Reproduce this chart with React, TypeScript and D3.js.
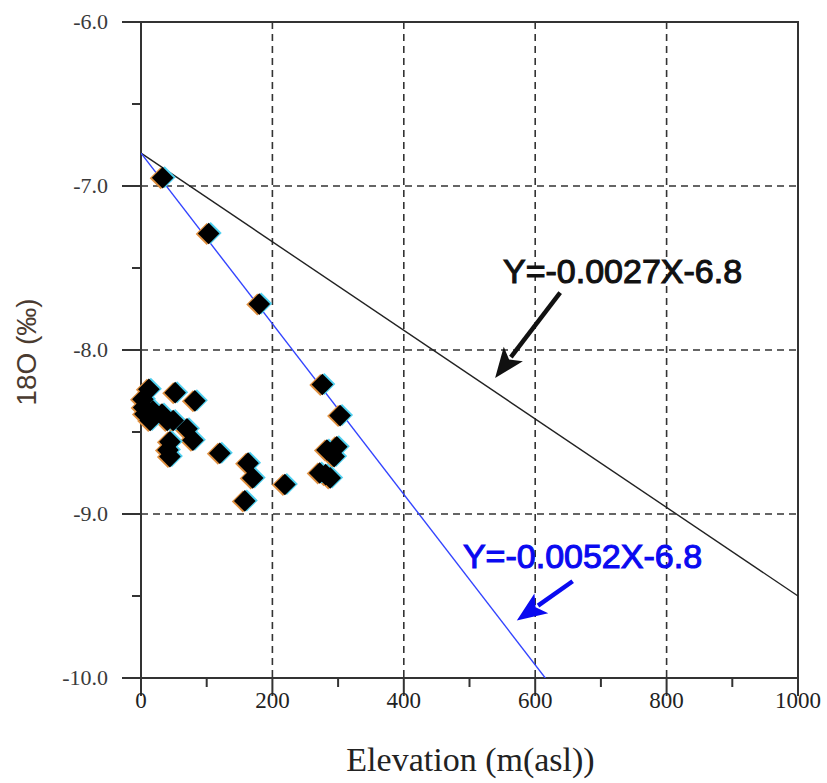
import React, { useEffect, useRef } from 'react';
import * as d3 from 'd3';

// elevation (m asl) and d18O (permil) of the samples
const elevation = [33, 103, 180, 12, 52, 82, 3, 4, 6, 18, 14, 32, 40, 49, 70, 79, 44, 44, 41, 120, 163, 170, 158, 219, 276, 303, 283, 298, 294, 272, 288, 281];
const d18O = [-6.95, -7.29, -7.72, -8.24, -8.26, -8.31, -8.3, -8.35, -8.39, -8.37, -8.43, -8.39, -8.43, -8.43, -8.48, -8.55, -8.56, -8.65, -8.61, -8.63, -8.69, -8.78, -8.92, -8.82, -8.21, -8.4, -8.61, -8.59, -8.65, -8.75, -8.78, -8.76];

const xTicks = [0, 200, 400, 600, 800, 1000];
const yTicks = [-6, -7, -8, -9, -10];

// regression lines: slope, intercept, label, colour
const fits = [
  { slope: -0.0027, intercept: -6.8, label: 'Y=-0.0027X-6.8', color: '#111111', lineColor: '#222222', text: [551, -7.59], arrow: [[638, -7.65], [539, -8.17]] },
  { slope: -0.0052, intercept: -6.8, label: 'Y=-0.0052X-6.8', color: '#0a0af0', lineColor: '#3344ff', text: [490, -9.33], arrow: [[657, -9.41], [572, -9.65]] },
];

const W = 827;
const H = 783;

const Chart = () => {
  const ref = useRef<SVGSVGElement>(null);

  useEffect(() => {
    document.body.style.margin = '0';
    const svg = d3.select(ref.current);
    svg.selectAll('*').remove();

    const margin = { top: 22, right: 29, bottom: 105, left: 141 };
    const x = d3.scaleLinear().domain([0, 1000]).range([margin.left, W - margin.right]);
    const y = d3.scaleLinear().domain([-6, -10]).range([margin.top, H - margin.bottom]);

    const defs = svg.append('defs');
    defs.append('clipPath').attr('id', 'plot')
      .append('rect')
      .attr('x', x(0)).attr('y', y(-6))
      .attr('width', x(1000) - x(0)).attr('height', y(-10) - y(-6));

    // dashed grid
    const grid = svg.append('g').attr('stroke', '#333').attr('stroke-width', 1.6).attr('stroke-dasharray', '7,5');
    grid.selectAll('.gx').data([200, 400, 600, 800]).enter().append('line')
      .attr('x1', (d) => x(d)).attr('x2', (d) => x(d))
      .attr('y1', y(-6)).attr('y2', y(-10));
    grid.selectAll('.gy').data([-7, -8, -9]).enter().append('line')
      .attr('y1', (d) => y(d)).attr('y2', (d) => y(d))
      .attr('x1', x(0)).attr('x2', x(1000));

    // ticks
    const axisG = svg.append('g').attr('stroke', '#333').attr('stroke-width', 2);
    axisG.selectAll('.yt').data(d3.range(-6, -10.01, -0.5)).enter().append('line')
      .attr('y1', (d) => y(d)).attr('y2', (d) => y(d))
      .attr('x1', (d) => x(0) - (Number.isInteger(d) ? 19 : 9)).attr('x2', x(0));
    axisG.selectAll('.xt').data(d3.range(0, 1001, 100)).enter().append('line')
      .attr('x1', (d) => x(d)).attr('x2', (d) => x(d))
      .attr('y1', y(-10)).attr('y2', (d) => y(-10) + (d % 200 === 0 ? 18 : 9));

    // frame
    svg.append('rect')
      .attr('x', x(0)).attr('y', y(-6))
      .attr('width', x(1000) - x(0)).attr('height', y(-10) - y(-6))
      .attr('fill', 'none').attr('stroke', '#333').attr('stroke-width', 2);

    // tick labels
    svg.append('g').selectAll('text').data(yTicks).enter().append('text')
      .attr('x', 108).attr('y', (d) => y(d) + 7)
      .attr('text-anchor', 'end')
      .style('font-family', 'Liberation Serif, serif').style('font-size', '22px').attr('fill', '#3a3a3a')
      .text((d) => d.toFixed(1));
    svg.append('g').selectAll('text').data(xTicks).enter().append('text')
      .attr('x', (d) => x(d)).attr('y', y(-10) + 30)
      .attr('text-anchor', 'middle')
      .style('font-family', 'Liberation Serif, serif').style('font-size', '23px').attr('fill', '#222')
      .text((d) => String(d));

    // axis titles
    svg.append('text')
      .attr('x', (x(0) + x(1000)) / 2 + 1).attr('y', 771)
      .attr('text-anchor', 'middle')
      .style('font-family', 'Liberation Serif, serif').style('font-size', '34px').attr('fill', '#222')
      .text('Elevation (m(asl))');
    svg.append('text')
      .attr('transform', `translate(36, ${(y(-6) + y(-10)) / 2 + 2}) rotate(-90)`)
      .attr('text-anchor', 'middle')
      .style('font-family', 'Liberation Sans, Arial, sans-serif').style('font-size', '28px').attr('fill', '#4a3b30')
      .text('18O (‰)');

    // fit lines
    const plot = svg.append('g').attr('clip-path', 'url(#plot)');
    fits.forEach((f) => {
      plot.append('line')
        .attr('x1', x(0)).attr('y1', y(f.intercept))
        .attr('x2', x(1000)).attr('y2', y(f.intercept + f.slope * 1000))
        .attr('stroke', f.lineColor).attr('stroke-width', 1.4);
    });

    // samples: diamonds with a little colour fringe
    const pts = elevation.map((e, i) => [x(e), y(d18O[i])]);
    const diamond = (cx: number, cy: number, r: number) =>
      `M${cx},${cy - r}L${cx + r},${cy}L${cx},${cy + r}L${cx - r},${cy}Z`;
    const dots = svg.append('g');
    dots.selectAll('.fo').data(pts).enter().append('path')
      .attr('d', (d) => diamond(d[0] - 2, d[1] + 0.5, 11)).attr('fill', '#e09040');
    dots.selectAll('.fc').data(pts).enter().append('path')
      .attr('d', (d) => diamond(d[0] + 2, d[1] - 0.5, 11)).attr('fill', '#50d0f0');
    dots.selectAll('.fb').data(pts).enter().append('path')
      .attr('d', (d) => diamond(d[0], d[1], 10.8)).attr('fill', '#000');

    // annotations with arrows
    fits.forEach((f) => {
      svg.append('text')
        .attr('x', x(f.text[0])).attr('y', y(f.text[1]))
        .style('font-family', 'Liberation Sans, Arial, sans-serif').style('font-size', '34px')
        .attr('fill', f.color).attr('stroke', f.color).attr('stroke-width', 1.1)
        .text(f.label);
      const [s, t] = f.arrow;
      const x0 = x(s[0]), y0 = y(s[1]), x1 = x(t[0]), y1 = y(t[1]);
      const ang = Math.atan2(y1 - y0, x1 - x0);
      const hl = 30, hw = 12;
      const bx = x1 - hl * Math.cos(ang), by = y1 - hl * Math.sin(ang);
      svg.append('line')
        .attr('x1', x0).attr('y1', y0).attr('x2', bx + 4 * Math.cos(ang)).attr('y2', by + 4 * Math.sin(ang))
        .attr('stroke', f.color).attr('stroke-width', 4.5);
      svg.append('path')
        .attr('d', `M${x1},${y1}L${bx - hw * Math.sin(ang)},${by + hw * Math.cos(ang)}L${bx + 7 * Math.cos(ang)},${by + 7 * Math.sin(ang)}L${bx + hw * Math.sin(ang)},${by - hw * Math.cos(ang)}Z`)
        .attr('fill', f.color);
    });
  }, []);

  return <svg ref={ref} width={W} height={H} style={{ display: 'block', background: '#fff' }} />;
};

export default function App() {
  return <Chart />;
}
